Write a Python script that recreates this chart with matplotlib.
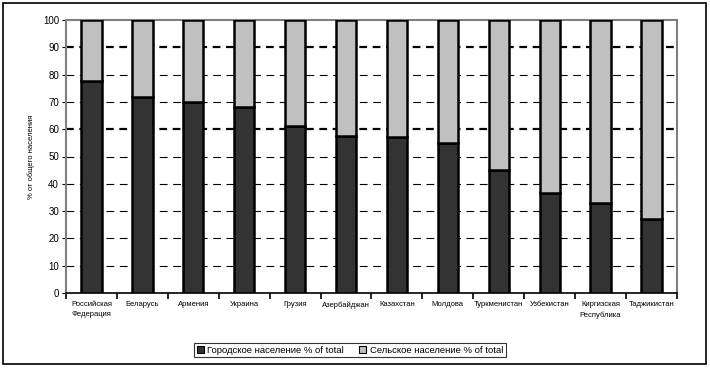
import matplotlib
matplotlib.use("Agg")
import matplotlib.pyplot as plt
from matplotlib.patches import Rectangle
import numpy as np

countries = ["Российская\nФедерация", "Беларусь", "Армения", "Украина", "Грузия",
             "Азербайджан", "Казахстан", "Молдова", "Туркменистан", "Узбекистан",
             "Киргизская\nРеспублика", "Таджикистан"]
urban = [77.8, 71.7, 70.1, 68.3, 61.0, 57.5, 57.0, 54.8, 44.9, 36.7, 33.1, 27.2]
rural = [100 - u for u in urban]

plt.rcParams["font.family"] = ["Liberation Sans", "DejaVu Sans"]

fig = plt.figure(figsize=(7.1, 3.7), dpi=100)
ax = fig.add_axes([66 / 710, 1 - 293 / 370, 611 / 710, 273 / 370])

x = np.arange(len(countries))
ax.bar(x, urban, width=0.4, color="#333333", edgecolor="black", linewidth=1.8,
       label="Городское население % of total", zorder=3)
ax.bar(x, rural, width=0.4, bottom=urban, color="#c0c0c0", edgecolor="black",
       linewidth=1.8, label="Сельское население % of total", zorder=3)

# gridlines (60 and 90 drawn heavier, as in the original)
for y in range(10, 100, 10):
    if y in (60, 90):
        ax.axhline(y, color="black", ls=(0, (3.5, 2.5)), lw=1.6, zorder=1)
    else:
        ax.axhline(y, color="black", ls=(0, (7, 5)), lw=0.8, zorder=1)

ax.set_xlim(-0.5, len(countries) - 0.5)
ax.set_ylim(0, 100)
ax.set_yticks(range(0, 101, 10))
ax.tick_params(axis="y", labelsize=7, length=3, width=0.8, pad=2)
ax.set_xticks(x)
ax.set_xticklabels(countries, fontsize=5.5, va="top", ha="center")
ax.set_xticks(np.arange(-0.5, len(countries)), minor=True)
ax.tick_params(axis="x", which="major", length=0, pad=6)
ax.tick_params(axis="x", which="minor", length=4, width=1.2, direction="out")
for lab in ax.get_xticklabels():
    lab.set_linespacing(1.6)
ax.set_ylabel("% от общего населения", fontsize=5.5, labelpad=6)

ax.spines["bottom"].set_linewidth(1.2)
for s in ("left", "right", "top"):
    ax.spines[s].set_color("#808080")
    ax.spines[s].set_linewidth(1.5)

leg = ax.legend(loc="upper center", bbox_to_anchor=(0.465, -0.165), ncol=2,
                fontsize=6.8, frameon=True, fancybox=False, edgecolor="black",
                handlelength=0.7, handleheight=0.7, handletextpad=0.4,
                columnspacing=1.6, borderpad=0.3)
leg.get_frame().set_linewidth(0.8)
for h in leg.legend_handles:
    h.set_linewidth(0.8)

fig.patches.append(Rectangle((3 / 710, 6 / 370), 703 / 710, 361 / 370,
                             transform=fig.transFigure, fill=False,
                             edgecolor="black", linewidth=1.2))

fig.savefig("out.png", dpi=100)
